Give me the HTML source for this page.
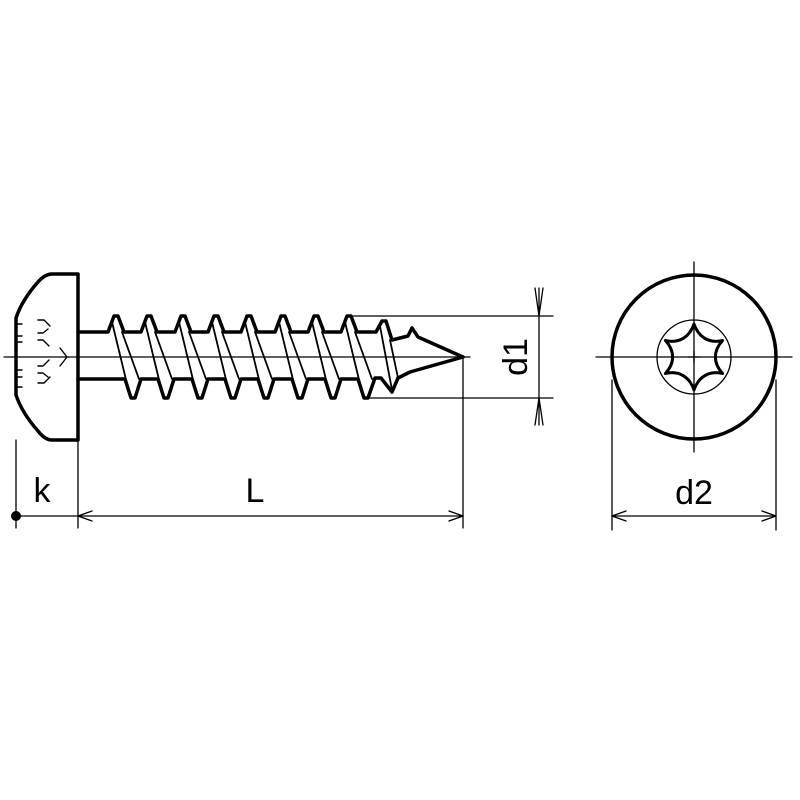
<!DOCTYPE html>
<html><head><meta charset="utf-8"><style>html,body{margin:0;padding:0;background:#fff}svg{display:block}</style></head>
<body>
<svg width="800" height="800" viewBox="0 0 800 800" xmlns="http://www.w3.org/2000/svg">
<g fill="none" stroke="#000" stroke-linejoin="round" stroke-linecap="round">
<path d="M4,357 H470" stroke-width="1.3"/>
<path d="M78,274 H52 Q45,274 38,282 Q22,300 16,318 V395 Q22,413 38,431 Q45,440 52,440 H78 Z" stroke-width="3.5"/>
<g stroke-width="1.4">
<path d="M18,324h4M18,336h4M18,342h4M18,370h4M18,377h4M18,387h4"/>
<path d="M38,320h6l6,6M38,333h5l5,-4M38,340h5l6,6"/>
<path d="M38,383h6l6,-6M38,373h5l5,4M38,366h5l6,-6"/>
<path d="M60,348l7,9l-7,9"/>
</g>
<path stroke-width="3.5" d="M78,332 H108 L114,316 H118 L124,332 H141 L147,316 H151 L157,332 H175 L181,316 H185 L191,332 H208 L214,316 H218 L224,332 H241 L247,316 H251 L257,332 H275 L281,316 H285 L291,332 H308 L314,316 H318 L324,332 H341 L347,316 H351 L357,332 H376 L382,321 H386 L392,340 L408,336 L412,328 L418,337 L463,357"/>
<path stroke-width="3.5" d="M78,379 H125 L131,398 H135 L141,379 H158 L164,398 H168 L174,379 H192 L198,398 H202 L208,379 H225 L231,398 H235 L241,379 H258 L264,398 H268 L274,379 H292 L298,398 H302 L308,379 H325 L331,398 H335 L341,379 H358 L364,398 H368 L375,378 L381,378 L392,392 L398,378 L410,372 L463,357"/>
<g stroke-width="1.8">
<path d="M112,322L129,392M122,332L139,379M145,322L162,392M155,332L172,379M179,322L196,392M189,332L206,379M212,322L229,392M222,332L239,379M245,322L262,392M255,332L272,379M279,322L296,392M289,332L306,379M312,322L329,392M322,332L339,379M345,322L362,392M355,332L372,379M380,326L392,390M390,340L398,378"/>
</g>
<g stroke-width="1.3">
<path d="M16,440V528M78,440V528M463,357V528"/>
<path d="M16,516H463"/>
<path d="M92,511L78,516L92,521M449,511L463,516L449,521"/>
<path d="M349,316H553M366,398H553"/>
<path d="M539,288V425"/>
<path d="M535,288L539,316L543,288M535,425L539,398L543,425"/>
<path d="M612,380V530M776,380V530M612,516H776"/>
<path d="M626,511L612,516L626,521M762,511L776,516L762,521"/>
<path d="M596,357H792M694,262V452"/>
<circle cx="694" cy="357" r="37"/>
<path d="M688,357h12M694,351v12"/>
</g>
<circle cx="694" cy="357" r="82" stroke-width="3.5"/>
<path stroke-width="3" d="M694,324 C698,336 708,344 722.6,340.5 C713,351 713,363 722.6,373.5 C708,370 698,378 694,390 C690,378 680,370 665.4,373.5 C675,363 675,351 665.4,340.5 C680,344 690,336 694,324 Z"/>
</g>
<circle cx="16" cy="516" r="5" fill="#000"/>
<g font-family="Liberation Sans, sans-serif" font-size="34" fill="#000">
<text x="42" y="502" text-anchor="middle">k</text>
<text x="255" y="502" text-anchor="middle">L</text>
<text x="694" y="504" text-anchor="middle">d2</text>
<text transform="translate(527,357) rotate(-90)" text-anchor="middle">d1</text>
</g>
</svg>
</body></html>
